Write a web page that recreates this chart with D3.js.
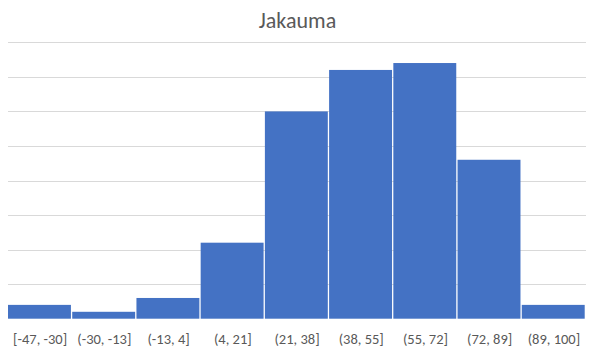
<!DOCTYPE html>
<html>
<head>
<meta charset="utf-8">
<script src="https://cdn.jsdelivr.net/npm/d3@7"></script>
<style>
  html, body { margin: 0; padding: 0; background: #fff; }
  svg { display: block; }
</style>
</head>
<body>
<svg id="chart" width="595" height="356"></svg>
<script>
const title = "Jakauma";
const categories = ["[-47, -30]", "(-30, -13]", "(-13, 4]", "(4, 21]", "(21, 38]", "(38, 55]", "(55, 72]", "(72, 89]", "(89, 100]"];
const counts = [2, 1, 3, 11, 30, 36, 37, 23, 2];
const yTicks = [0, 5, 10, 15, 20, 25, 30, 35, 40];

const svg = d3.select("#chart");
const W = 595, H = 356;
const margin = { left: 8, right: 9, top: 42.3, bottom: 37.3 };
const fontFam = "Calibri, Carlito, 'Liberation Sans', Arial, sans-serif";

const x = d3.scaleBand()
  .domain(categories)
  .range([margin.left, W - margin.right])
  .paddingInner(0).paddingOuter(0);

const y = d3.scaleLinear()
  .domain([0, 40])
  .range([H - margin.bottom, margin.top]);

// gridlines
svg.append("g")
  .selectAll("line")
  .data(yTicks.slice(1))
  .join("line")
  .attr("x1", margin.left)
  .attr("x2", W - margin.right)
  .attr("y1", d => Math.round(y(d)) + 0.5)
  .attr("y2", d => Math.round(y(d)) + 0.5)
  .attr("stroke", "#d9d9d9")
  .attr("stroke-width", 1);

// bars
svg.append("g")
  .selectAll("rect")
  .data(counts)
  .join("rect")
  .attr("x", (d, i) => x(categories[i]))
  .attr("width", x.bandwidth() - 1.3)
  .attr("y", d => y(d))
  .attr("height", d => y(0) - y(d))
  .attr("fill", "#4472c4");

// x axis labels
const xAxis = d3.axisBottom(x).tickSize(0).tickPadding(0);
const gx = svg.append("g")
  .attr("transform", `translate(0, ${y(0)})`)
  .call(xAxis);
gx.select(".domain").remove();
gx.selectAll("text")
  .attr("dy", 0)
  .attr("y", 25)
  .attr("fill", "#595959")
  .style("font-family", fontFam)
  .style("font-size", "14.5px");

// title
svg.append("text")
  .attr("x", W / 2)
  .attr("y", 27.5)
  .attr("text-anchor", "middle")
  .attr("fill", "#595959")
  .style("font-family", fontFam)
  .style("font-size", "22px")
  .text(title);
</script>
</body>
</html>
